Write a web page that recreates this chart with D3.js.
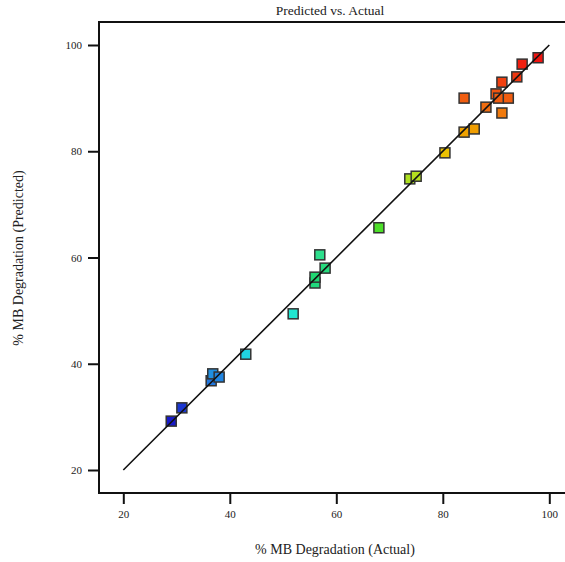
<!DOCTYPE html>
<html>
<head>
<meta charset="utf-8">
<script src="https://cdn.jsdelivr.net/npm/d3@7"></script>
<style>
  body { margin: 0; background: #fff; }
  text { font-family: "Liberation Serif", "Times New Roman", serif; fill: #222; }
</style>
</head>
<body>
<svg id="chart" width="565" height="562"></svg>
<script>
// values
const actual    = [29.0, 31.0, 36.5, 36.8, 38.0, 43.0, 51.9, 56.0, 56.0, 56.9, 57.9, 68.0, 73.8, 75.0, 80.4, 84.0, 85.9, 84.0, 88.1, 90.0, 91.1, 91.1, 90.5, 92.3, 93.9, 94.9, 97.9]
const predicted = [29.2, 31.7, 36.8, 38.1, 37.5, 41.8, 49.4, 55.2, 56.3, 60.5, 58.0, 65.6, 74.8, 75.3, 79.7, 83.6, 84.2, 90.0, 88.3, 90.8, 93.0, 87.2, 90.0, 90.0, 94.0, 96.4, 97.6]
const xTicks = [20, 40, 60, 80, 100]
const yTicks = [20, 40, 60, 80, 100]
const colorStops = [29, 36, 42, 50, 56, 61, 66, 75, 80, 84, 88, 92, 98]
const colorList  = ['#1818c8', '#2068e0', '#20d8e0', '#20e8d0', '#20d870', '#30e090', '#50e020', '#b0e020', '#f0c000', '#f0a000', '#f07010', '#f04a10', '#f01010']

let svg = d3.select('#chart')

let padLeft = 99, padTop = 22, padBottom = 493
let xScale = d3.scaleLinear().domain([20, 100]).range([123.3, 549.3])
let yScale = d3.scaleLinear().domain([20, 100]).range([470, 45])
let color = d3.scaleLinear().domain(colorStops).range(colorList)

let xAxis = d3.axisBottom(xScale).tickValues(xTicks).tickSize(11).tickPadding(6)
let gx = svg.append('g').attr('transform', 'translate(0,' + padBottom + ')').call(xAxis)
gx.select('.domain').remove()
gx.selectAll('line').attr('stroke', '#111').attr('stroke-width', 2)
gx.selectAll('text').style('font-size', '11px').attr('fill', '#222')

let yAxis = d3.axisLeft(yScale).tickValues(yTicks).tickSize(11).tickPadding(6)
let gy = svg.append('g').attr('transform', 'translate(' + padLeft + ',0)').call(yAxis)
gy.select('.domain').remove()
gy.selectAll('line').attr('stroke', '#111').attr('stroke-width', 2)
gy.selectAll('text').style('font-size', '11px').attr('fill', '#222')

// frame (right side runs off the page)
svg.append('path')
   .attr('d', `M600,${padTop}H${padLeft}V${padBottom}H600`)
   .attr('fill', 'none').attr('stroke', '#111').attr('stroke-width', 2)

let pts = actual.map((a, i) => ({a: a, p: predicted[i]}))
svg.append('g').selectAll('rect').data(pts).join('rect')
   .attr('x', d => xScale(d.a) - 5).attr('y', d => yScale(d.p) - 5)
   .attr('width', 10).attr('height', 10)
   .attr('fill', d => color(d.p))
   .attr('stroke', '#333').attr('stroke-width', 1.5)

// y = x line, drawn over the squares
svg.append('line')
   .attr('x1', xScale(20)).attr('y1', yScale(20))
   .attr('x2', xScale(100)).attr('y2', yScale(100))
   .attr('stroke', '#111').attr('stroke-width', 1.6)

svg.append('text').text('Predicted vs. Actual')
   .attr('x', 330).attr('y', 15).attr('text-anchor', 'middle').style('font-size', '13.5px')
svg.append('text').text('% MB Degradation (Actual)')
   .attr('x', 335).attr('y', 554).attr('text-anchor', 'middle').style('font-size', '14px')
svg.append('text').text('% MB Degradation (Predicted)')
   .attr('transform', 'translate(23,258) rotate(-90)').attr('text-anchor', 'middle').style('font-size', '14px')
</script>
</body>
</html>
